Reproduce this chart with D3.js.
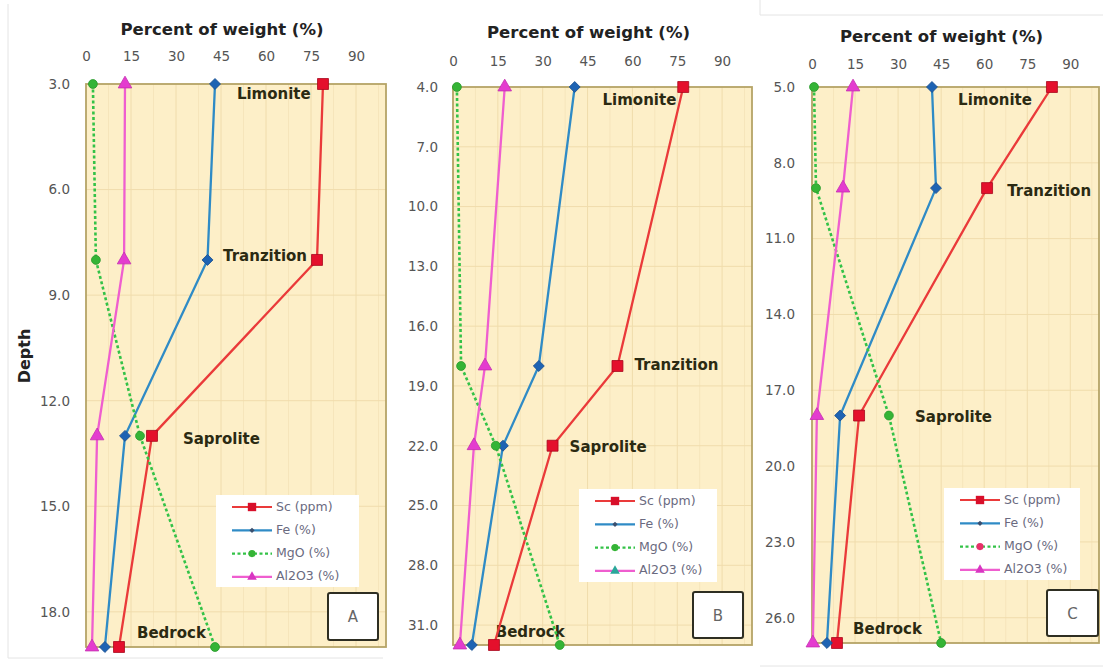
<!DOCTYPE html>
<html>
<head>
<meta charset="utf-8">
<script src="https://cdn.jsdelivr.net/npm/d3@7"></script>
<style>
  body { margin: 0; background: #ffffff; }
  svg { display: block; }
</style>
</head>
<body>
<svg id="chart" width="1103" height="668"></svg>
<script>
// ---- data -------------------------------------------------------------
const seriesNames = ["Sc (ppm)", "Fe (%)", "MgO (%)", "Al2O3 (%)"];
const zones = ["Limonite", "Tranzition", "Saprolite", "Bedrock"];
const xTicks = [0, 15, 30, 45, 60, 75, 90];

// Profile A
const depthA  = [3, 8, 13, 19];
const scA     = [79, 77, 22, 11];
const feA     = [43, 40.5, 13, 6.3];
const mgoA    = [2.3, 3.3, 18, 43];
const al2o3A  = [13, 12.7, 3.7, 2];
const depthTicksA = [3, 6, 9, 12, 15, 18];

// Profile B
const depthB  = [4, 18, 22, 32];
const scB     = [77, 55, 33.3, 13.7];
const feB     = [40.7, 28.7, 16.7, 6.3];
const mgoB    = [1.3, 2.7, 14.3, 35.7];
const al2o3B  = [17.3, 10.7, 7, 2.3];
const depthTicksB = [4, 7, 10, 13, 16, 19, 22, 25, 28, 31];

// Profile C
const depthC  = [5, 9, 18, 27];
const scC     = [83.6, 61, 16.4, 8.7];
const feC     = [41.8, 43.2, 9.8, 5.2];
const mgoC    = [0.7, 1.4, 26.8, 45];
const al2o3C  = [14.3, 10.8, 1.7, 0.3];
const depthTicksC = [5, 8, 11, 14, 17, 20, 23, 26];

// ---- styling ---------------------------------------------------------
const styles = [
  { line: "#ea3a3a", fill: "#e4102c", stroke: "#a8081d", symbol: d3.symbolSquare,   size: 120, rotate: 0,  dash: null },
  { line: "#2f8bc6", fill: "#1e63b3", stroke: "#1a4f8f", symbol: d3.symbolSquare,   size: 60,  rotate: 45, dash: null },
  { line: "#33c247", fill: "#35b436", stroke: "#2a9a2c", symbol: d3.symbolCircle,   size: 62,  rotate: 0,  dash: "3,2.5" },
  { line: "#ef5ecf", fill: "#e43ccf", stroke: "#c42fb0", symbol: d3.symbolTriangle, size: 80,  rotate: 0,  dash: null }
];
const legendMarkers = [
  { fill: "#d80f2a", symbol: d3.symbolSquare,   size: 70, rotate: 0 },
  { fill: "#3b4f6e", symbol: d3.symbolSquare,   size: 14, rotate: 45 },
  { fill: "#35b436", symbol: d3.symbolCircle,   size: 40, rotate: 0 },
  { fill: "#d836c2", symbol: d3.symbolTriangle, size: 40, rotate: 0 }
];

const panels = [
  {
    letter: "A", depths: depthA, values: [scA, feA, mgoA, al2o3A], depthTicks: depthTicksA,
    depthDomain: [3, 19], xRange: [86, 386], yRange: [84, 647],
    titleY: 30, tickY: 55, depthLabelX: 70,
    zoneLabels: [[50.3, 10], [45.7, -3], [32.3, 4], [17, -14]],
    legend: { x: 216, y: 495, w: 143, h: 92 },
    letterBox: { x: 328, y: 593, w: 50, h: 47 },
    legendOverride: {}
  },
  {
    letter: "B", depths: depthB, values: [scB, feB, mgoB, al2o3B], depthTicks: depthTicksB,
    depthDomain: [4, 32], xRange: [453, 752], yRange: [87, 645],
    titleY: 33, tickY: 60, depthLabelX: 438,
    zoneLabels: [[50, 13], [60.7, -1], [39, 2], [14.3, -13]],
    legend: { x: 579, y: 489, w: 138, h: 93 },
    letterBox: { x: 693, y: 592, w: 50, h: 46 },
    legendOverride: { 3: "#2aa79a" }
  },
  {
    letter: "C", depths: depthC, values: [scC, feC, mgoC, al2o3C], depthTicks: depthTicksC,
    depthDomain: [5, 27], xRange: [812, 1099], yRange: [87, 643],
    titleY: 37, tickY: 63, depthLabelX: 795,
    zoneLabels: [[50.9, 13], [68, 3], [35.9, 2], [14.3, -14]],
    legend: { x: 944, y: 488, w: 136, h: 92 },
    letterBox: { x: 1047, y: 590, w: 51, h: 46 },
    legendOverride: { 2: "#e8306a" }
  }
];

const svg = d3.select("#chart");
const font = "'DejaVu Sans', sans-serif";

// faint outer frames of the figure tiles
const frame = svg.append("g").attr("stroke", "#e4e4e4").attr("fill", "none").attr("stroke-width", 1);
frame.append("path").attr("d", "M8,4 V658 H383");
frame.append("path").attr("d", "M760,0 V15 H1103");
frame.append("path").attr("d", "M760,666 H1103");

// y-axis title (first profile only)
svg.append("text")
  .attr("transform", "translate(25,356) rotate(-90)")
  .attr("text-anchor", "middle")
  .attr("dominant-baseline", "middle")
  .attr("font-family", font)
  .attr("font-weight", "bold")
  .attr("font-size", 16)
  .attr("fill", "#222")
  .text("Depth");

panels.forEach(p => {
  const x = d3.scaleLinear().domain([0, 100]).range(p.xRange);
  const y = d3.scaleLinear().domain(p.depthDomain).range(p.yRange);
  const g = svg.append("g");
  const [x0, x1] = p.xRange, [y0, y1] = p.yRange;

  // plot background
  g.append("rect").attr("x", x0).attr("y", y0).attr("width", x1 - x0).attr("height", y1 - y0)
    .attr("fill", "#fdefc8");

  // gridlines: minor, then major
  const minor = d3.range(7.5, 100, 15);
  g.append("g").selectAll("line").data(minor).join("line")
    .attr("x1", d => x(d)).attr("x2", d => x(d)).attr("y1", y0).attr("y2", y1)
    .attr("stroke", "#f6e5bb").attr("stroke-width", 1);
  g.append("g").selectAll("line").data(xTicks.slice(1)).join("line")
    .attr("x1", d => x(d)).attr("x2", d => x(d)).attr("y1", y0).attr("y2", y1)
    .attr("stroke", "#f0dcac").attr("stroke-width", 1);
  g.append("g").selectAll("line").data(p.depthTicks.slice(1)).join("line")
    .attr("x1", x0).attr("x2", x1).attr("y1", d => y(d)).attr("y2", d => y(d))
    .attr("stroke", "#f0dcac").attr("stroke-width", 1);

  // plot border
  g.append("rect").attr("x", x0).attr("y", y0).attr("width", x1 - x0).attr("height", y1 - y0)
    .attr("fill", "none").attr("stroke", "#b5a466").attr("stroke-width", 1.8);

  // title
  g.append("text")
    .attr("x", (x0 + x1) / 2 - 14).attr("y", p.titleY)
    .attr("text-anchor", "middle").attr("dominant-baseline", "middle")
    .attr("font-family", font).attr("font-weight", "bold").attr("font-size", 16.5)
    .attr("fill", "#222")
    .text("Percent of weight (%)");

  // top value axis
  const xAxis = d3.axisTop(x).tickValues(xTicks).tickSize(0).tickPadding(0).tickFormat(d3.format("d"));
  const xa = g.append("g").attr("transform", `translate(0,${p.tickY + 6})`).call(xAxis);
  xa.select(".domain").remove();
  xa.selectAll("text").attr("font-family", font).attr("font-size", 13.5).attr("fill", "#555");

  // left depth axis
  const yAxis = d3.axisLeft(y).tickValues(p.depthTicks).tickSize(0).tickPadding(0).tickFormat(d3.format(".1f"));
  const ya = g.append("g").attr("transform", `translate(${p.depthLabelX},0)`).call(yAxis);
  ya.select(".domain").remove();
  ya.selectAll("text").attr("font-family", font).attr("font-size", 13.5).attr("fill", "#555");

  // zone labels
  g.append("g").selectAll("text").data(zones).join("text")
    .attr("x", (d, i) => x(p.zoneLabels[i][0]))
    .attr("y", (d, i) => y(p.depths[i]) + p.zoneLabels[i][1])
    .attr("dominant-baseline", "middle")
    .attr("font-family", font).attr("font-weight", "bold").attr("font-size", 15)
    .attr("fill", "#2b2a12")
    .text(d => d);

  // series lines and markers
  p.values.forEach((vals, si) => {
    const st = styles[si];
    const pts = vals.map((v, i) => [v, p.depths[i]]);
    const line = d3.line().x(d => x(d[0])).y(d => y(d[1]));
    g.append("path").datum(pts)
      .attr("d", line)
      .attr("fill", "none")
      .attr("stroke", st.line)
      .attr("stroke-width", si === 2 ? 2.6 : 2.3)
      .attr("stroke-dasharray", st.dash);
    g.append("g").selectAll("path").data(pts).join("path")
      .attr("d", d3.symbol().type(st.symbol).size(st.size))
      .attr("transform", d => `translate(${x(d[0])},${y(d[1])}) rotate(${st.rotate})`)
      .attr("fill", st.fill)
      .attr("stroke", st.stroke)
      .attr("stroke-width", 0.8);
  });

  // legend
  const L = p.legend;
  const lg = g.append("g").attr("transform", `translate(${L.x},${L.y})`);
  lg.append("rect").attr("width", L.w).attr("height", L.h).attr("fill", "#ffffff");
  seriesNames.forEach((name, i) => {
    const st = styles[i], lm = legendMarkers[i];
    const ry = 12 + i * 23.3;
    lg.append("line").attr("x1", 16).attr("x2", 56).attr("y1", ry).attr("y2", ry)
      .attr("stroke", st.line).attr("stroke-width", 2.2).attr("stroke-dasharray", st.dash);
    lg.append("path")
      .attr("d", d3.symbol().type(lm.symbol).size(lm.size))
      .attr("transform", `translate(36,${ry}) rotate(${lm.rotate})`)
      .attr("fill", p.legendOverride[i] || lm.fill);
    lg.append("text").attr("x", 60).attr("y", ry).attr("dominant-baseline", "middle")
      .attr("font-family", font).attr("font-size", 12.5).attr("fill", "#6a6a80")
      .text(name);
  });

  // profile letter box
  const B = p.letterBox;
  g.append("rect").attr("x", B.x).attr("y", B.y).attr("width", B.w).attr("height", B.h)
    .attr("rx", 2).attr("fill", "#ffffff").attr("stroke", "#2e2e22").attr("stroke-width", 2);
  g.append("text").attr("x", B.x + B.w / 2).attr("y", B.y + B.h / 2 + 1)
    .attr("text-anchor", "middle").attr("dominant-baseline", "middle")
    .attr("font-family", font).attr("font-size", 15).attr("fill", "#666")
    .text(p.letter);
});
</script>
</body>
</html>
